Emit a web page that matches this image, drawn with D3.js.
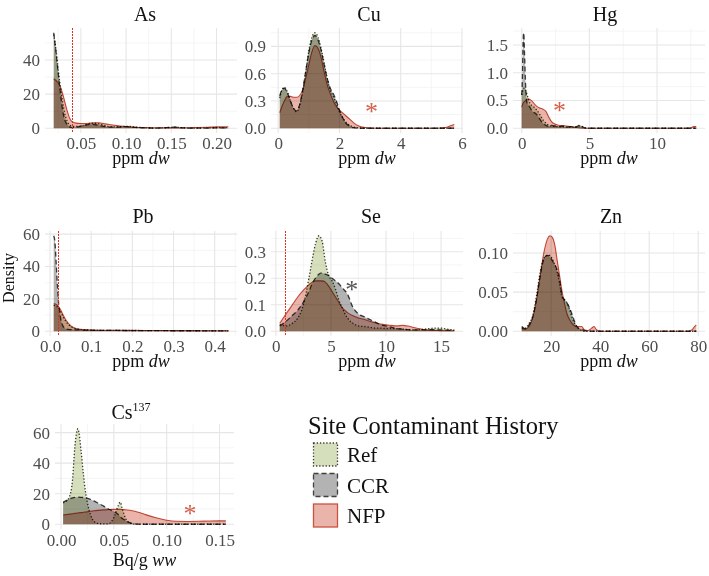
<!DOCTYPE html>
<html><head><meta charset="utf-8">
<script src="https://cdn.jsdelivr.net/npm/d3@7"></script>
<style>
body{margin:0;background:#fff;}
svg{display:block;font-family:"Liberation Serif","Times New Roman",serif;}
</style>
</head><body>
<svg id="c" width="709" height="576"></svg>
<script>
// ---------------- DATA ----------------
const groups = ["Ref", "CCR", "NFP"];
const legendTitle = "Site Contaminant History";

// As
const asX   = [0.02,0.0225,0.025,0.0275,0.03,0.0325,0.035,0.0375,0.04,0.045,0.05,0.055,0.06,0.065,0.07,0.075,0.08,0.09,0.1,0.105,0.11,0.12,0.13,0.14,0.15,0.155,0.16,0.17,0.18,0.19,0.2,0.213];
const asRef = [55,46,34,24,15,8,4,2,1.2,1,1.2,2,2.8,3,2.6,1.8,1,0.8,1.1,1,0.7,0.3,0.1,0.15,0.5,0.6,0.4,0.1,0.1,0.2,0.3,0.3];
const asCCR = [56,45,32,20,10,4.5,2,0.8,0.4,0.6,1.2,1.8,2.3,2.2,1.7,1.1,0.6,0.6,0.9,0.8,0.5,0.2,0.1,0.2,0.6,0.6,0.3,0.1,0.05,0.1,0.2,0.2];
const asNFP = [29,28,26.5,24,20,15,10,6,4,3,2.8,2.8,3,3.2,3.2,2.8,2.3,1.5,1,0.8,0.6,0.4,0.3,0.25,0.2,0.2,0.2,0.3,0.4,0.6,0.8,0.9];
const asXTicks = [0.05,0.10,0.15,0.20], asXLabels = ["0.05","0.10","0.15","0.20"];
const asYTicks = [0,20,40], asYLabels = ["0","20","40"];

// Cu
const cuX   = [0.05,0.1,0.2,0.3,0.4,0.5,0.6,0.7,0.8,0.9,1.0,1.1,1.2,1.3,1.4,1.5,1.6,1.7,1.8,1.9,2.0,2.1,2.2,2.3,2.4,2.5,2.6,2.8,3.0,3.5,4,4.5,5,5.3,5.5,5.65,5.75];
const cuRef = [0.33,0.40,0.45,0.40,0.30,0.22,0.18,0.25,0.40,0.62,0.85,1.0,1.05,1.0,0.88,0.72,0.55,0.42,0.35,0.27,0.18,0.12,0.07,0.04,0.02,0.01,0.005,0,0,0,0,0,0,0,0,0,0];
const cuCCR = [0.35,0.41,0.44,0.39,0.30,0.22,0.19,0.26,0.42,0.63,0.83,0.97,1.02,0.97,0.86,0.70,0.55,0.44,0.38,0.30,0.20,0.12,0.06,0.03,0.01,0.005,0,0,0,0,0,0,0,0,0,0,0];
const cuNFP = [0.17,0.22,0.30,0.35,0.35,0.34,0.34,0.36,0.42,0.55,0.70,0.84,0.91,0.88,0.78,0.62,0.48,0.38,0.30,0.24,0.20,0.17,0.14,0.11,0.08,0.05,0.03,0.01,0.002,0,0,0,0,0.002,0.01,0.03,0.04];
const cuXTicks = [0,2,4,6], cuXLabels = ["0","2","4","6"];
const cuYTicks = [0,0.3,0.6,0.9], cuYLabels = ["0.0","0.3","0.6","0.9"];

// Hg
const hgX   = [0.0,0.05,0.1,0.15,0.2,0.3,0.4,0.5,0.6,0.8,1.0,1.2,1.4,1.6,1.8,2.0,2.2,2.5,2.8,3.0,3.3,3.6,4.0,4.3,4.6,5,6,8,10,12,12.5,12.7,12.9];
const hgRef = [0.6,0.65,0.7,0.72,0.72,0.68,0.6,0.52,0.45,0.4,0.36,0.3,0.22,0.14,0.09,0.05,0.04,0.03,0.03,0.03,0.02,0.02,0.03,0.04,0.01,0,0,0,0,0,0,0,0];
const hgCCR = [0.6,0.9,1.55,1.72,1.4,0.7,0.45,0.42,0.38,0.3,0.27,0.22,0.14,0.08,0.05,0.03,0.05,0.04,0.03,0.04,0.02,0.03,0.02,0.06,0.01,0,0,0,0,0,0,0,0];
const hgNFP = [0.38,0.42,0.45,0.47,0.48,0.5,0.52,0.53,0.52,0.48,0.42,0.38,0.36,0.34,0.3,0.2,0.12,0.07,0.05,0.05,0.04,0.03,0.015,0.005,0,0,0,0,0,0,0.005,0.03,0.03];
const hgXTicks = [0,5,10], hgXLabels = ["0","5","10"];
const hgYTicks = [0,0.5,1.0,1.5], hgYLabels = ["0.0","0.5","1.0","1.5"];

// Pb
const pbX   = [0.009,0.012,0.015,0.018,0.021,0.025,0.03,0.035,0.04,0.05,0.06,0.07,0.08,0.1,0.15,0.2,0.25,0.3,0.35,0.4,0.433];
const pbRef = [16,16,15.5,15,14,12.5,10,7.5,5.5,3,1.8,1.2,0.9,0.7,0.5,0.45,0.4,0.35,0.3,0.3,0.3];
const pbCCR = [59,55,42,28,17,9,4,2,1.3,1,0.9,0.8,0.7,0.6,0.5,0.4,0.4,0.3,0.3,0.2,0.2];
const pbNFP = [17,17,16.5,16,15,13.5,11,8.5,6.5,3.5,2,1.3,1,0.8,0.6,0.5,0.45,0.4,0.35,0.3,0.3];
const pbXTicks = [0,0.1,0.2,0.3,0.4], pbXLabels = ["0.0","0.1","0.2","0.3","0.4"];
const pbYTicks = [0,20,40,60], pbYLabels = ["0","20","40","60"];

// Se
const seX   = [0.35,1,1.5,2,2.5,3,3.3,3.6,3.9,4.2,4.5,4.8,5.1,5.4,5.7,6,6.5,7,7.5,8,8.5,9,9.5,10,10.5,11,11.5,12,12.5,13,13.5,14,14.5,15,15.5,16.2];
const seRef = [0.025,0.02,0.03,0.05,0.10,0.20,0.27,0.33,0.36,0.34,0.26,0.21,0.19,0.16,0.12,0.09,0.05,0.03,0.02,0.018,0.015,0.012,0.012,0.01,0.01,0.01,0.008,0.006,0.005,0.006,0.008,0.01,0.012,0.012,0.008,0.005];
const seCCR = [0.02,0.04,0.06,0.08,0.11,0.15,0.18,0.2,0.215,0.22,0.215,0.21,0.2,0.19,0.18,0.165,0.14,0.09,0.065,0.055,0.045,0.035,0.025,0.02,0.015,0.01,0.008,0.006,0.005,0.005,0.005,0.006,0.006,0.005,0.004,0.003];
const seNFP = [0.03,0.07,0.10,0.13,0.155,0.175,0.185,0.19,0.19,0.19,0.185,0.17,0.15,0.13,0.11,0.09,0.07,0.058,0.05,0.045,0.038,0.032,0.027,0.024,0.022,0.02,0.022,0.02,0.014,0.01,0.006,0.004,0.003,0.002,0.002,0.002];
const seXTicks = [0,5,10,15], seXLabels = ["0","5","10","15"];
const seYTicks = [0,0.1,0.2,0.3], seYLabels = ["0.0","0.1","0.2","0.3"];

// Zn
const znX   = [8,9.5,11,12.5,14,15.5,17,18.5,19.5,20.5,21.5,22.5,23.5,24.5,25.5,26.5,27.5,28.5,29.5,30.5,31.5,32.5,33.5,35,36.5,37.5,38.5,40,50,60,70,76,77.5,78.5,79.2];
const znRef = [0.004,0.004,0.01,0.02,0.045,0.075,0.093,0.097,0.097,0.092,0.085,0.075,0.06,0.043,0.04,0.036,0.028,0.018,0.01,0.005,0.003,0.001,0,0,0,0,0,0,0,0,0,0,0,0,0];
const znCCR = [0.006,0.003,0.008,0.018,0.04,0.07,0.092,0.097,0.095,0.09,0.085,0.078,0.065,0.045,0.04,0.036,0.03,0.022,0.013,0.006,0.003,0.002,0.001,0,0,0,0,0,0,0,0,0,0,0,0];
const znNFP = [0.003,0.003,0.006,0.018,0.04,0.07,0.10,0.118,0.122,0.12,0.11,0.09,0.07,0.05,0.035,0.022,0.015,0.01,0.007,0.006,0.006,0.006,0.002,0.001,0.004,0.006,0.002,0,0,0,0,0,0.002,0.006,0.008];
const znXTicks = [20,40,60,80], znXLabels = ["20","40","60","80"];
const znYTicks = [0,0.05,0.10], znYLabels = ["0.00","0.05","0.10"];

// Cs137
const csX   = [0.002,0.005,0.008,0.011,0.013,0.015,0.016,0.017,0.019,0.021,0.023,0.025,0.028,0.031,0.035,0.04,0.045,0.048,0.051,0.054,0.056,0.058,0.061,0.065,0.07,0.075,0.08,0.09,0.1,0.11,0.12,0.13,0.14,0.15,0.156];
const csRef = [14,15,18,30,50,61,62.5,60,48,34,22,14,6,2,0.5,0.2,0.3,2,6,12,14.5,10,4,0.8,0.1,0,0,0,0,0,0,0,0,0,0];
const csCCR = [14.5,15.5,16.5,17.3,17.6,17.7,17.7,17.7,17.6,17.5,17.3,17,16.2,15.3,13.8,12,10,9,8,6.5,5,3.8,2.5,1,0.2,0,0,0,0,0,0,0,0,0,0];
const csNFP = [6,6.3,6.6,6.9,7.1,7.3,7.4,7.5,7.6,7.8,8,8.2,8.5,8.8,9.1,9.4,9.6,9.7,9.7,9.7,9.7,9.6,9.5,9.2,8.5,7.5,6.3,4.2,2.6,1.9,1.8,1.9,2.1,2.2,2.2];
const csXTicks = [0,0.05,0.10,0.15], csXLabels = ["0.00","0.05","0.10","0.15"];
const csYTicks = [0,20,40,60], csYLabels = ["0","20","40","60"];

// Reference (detection) lines and significance asterisks
const vlineValues = {As: 0.04, Pb: 0.02, Se: 0.8};
const starPoints = {Cu: [3.05, 0.22, "NFP"], Hg: [2.8, 0.39, "NFP"], Se: [6.9, 0.17, "CCR"], Cs: [0.122, 9, "NFP"]};

// ---------------- STYLE ----------------
const fillCol = {Ref: "#d6dfbc", CCR: "#b3b3b3", NFP: "#eab4ab"};
const lineCol = {Ref: "#3b3b30", CCR: "#3f3f3f", NFP: "#c9533d"};
const dashes  = {Ref: "1.3,1.9", CCR: "5,3", NFP: null};
const starCol = {NFP: "#d4604a", CCR: "#555555"};

const panels = [
  {key:"As", title:"As", x:asX, s:{Ref:asRef,CCR:asCCR,NFP:asNFP}, xt:asXTicks, xl:asXLabels, yt:asYTicks, yl:asYLabels, unit:["ppm ","dw"], r:[45,28,192,105], tb:21, tc:145},
  {key:"Cu", title:"Cu", x:cuX, s:{Ref:cuRef,CCR:cuCCR,NFP:cuNFP}, xt:cuXTicks, xl:cuXLabels, yt:cuYTicks, yl:cuYLabels, unit:["ppm ","dw"], r:[271,28,192,105], tb:21, tc:369},
  {key:"Hg", title:"Hg", x:hgX, s:{Ref:hgRef,CCR:hgCCR,NFP:hgNFP}, xt:hgXTicks, xl:hgXLabels, yt:hgYTicks, yl:hgYLabels, unit:["ppm ","dw"], r:[513,28,192,105], tb:21, tc:605},
  {key:"Pb", title:"Pb", x:pbX, s:{Ref:pbRef,CCR:pbCCR,NFP:pbNFP}, xt:pbXTicks, xl:pbXLabels, yt:pbYTicks, yl:pbYLabels, unit:["ppm ","dw"], r:[45,231,192,105], tb:223, tc:143},
  {key:"Se", title:"Se", x:seX, s:{Ref:seRef,CCR:seCCR,NFP:seNFP}, xt:seXTicks, xl:seXLabels, yt:seYTicks, yl:seYLabels, unit:["ppm ","dw"], r:[271,231,192,105], tb:223, tc:371},
  {key:"Zn", title:"Zn", x:znX, s:{Ref:znRef,CCR:znCCR,NFP:znNFP}, xt:znXTicks, xl:znXLabels, yt:znYTicks, yl:znYLabels, unit:["ppm ","dw"], r:[513,231,192,105], tb:223, tc:611},
  {key:"Cs", title:"Cs", sup:"137", x:csX, s:{Ref:csRef,CCR:csCCR,NFP:csNFP}, xt:csXTicks, xl:csXLabels, yt:csYTicks, yl:csYLabels, unit:["Bq/g ","ww"], r:[55,424,179,105], tb:419, tc:131, xtPad:5, xaOff:37}
];

const svg = d3.select("#c");

function minorBreaks(ticks, dom) {
  const step = ticks.length > 1 ? ticks[1] - ticks[0] : 1;
  const out = [];
  let first = ticks[0] - step / 2;
  while (first - step >= dom[0]) first -= step;
  for (let v = first; v <= dom[1] + 1e-12; v += step) {
    if (v >= dom[0]) out.push(v);
  }
  return out;
}

const vlineLayer = [];

panels.forEach(p => {
  const [px, py, pw, ph] = p.r;
  const xe = d3.extent(p.x);
  const xr = xe[1] - xe[0];
  const xDom = [xe[0] - 0.05 * xr, xe[1] + 0.05 * xr];
  const ymax = d3.max(groups, g => d3.max(p.s[g]));
  const yDom = [-0.05 * ymax, ymax * 1.05];
  const x = d3.scaleLinear().domain(xDom).range([px, px + pw]);
  const y = d3.scaleLinear().domain(yDom).range([py + ph, py]);

  const g = svg.append("g");

  // grid
  const grid = g.append("g");
  minorBreaks(p.xt, xDom).forEach(v => grid.append("line")
    .attr("x1", x(v)).attr("x2", x(v)).attr("y1", py).attr("y2", py + ph)
    .attr("stroke", "#f1f1f1").attr("stroke-width", 0.7));
  minorBreaks(p.yt, yDom).forEach(v => grid.append("line")
    .attr("y1", y(v)).attr("y2", y(v)).attr("x1", px).attr("x2", px + pw)
    .attr("stroke", "#f1f1f1").attr("stroke-width", 0.7));
  p.xt.filter(v => v >= xDom[0] && v <= xDom[1]).forEach(v => grid.append("line")
    .attr("x1", x(v)).attr("x2", x(v)).attr("y1", py).attr("y2", py + ph)
    .attr("stroke", "#e6e6e6").attr("stroke-width", 1.1));
  p.yt.forEach(v => grid.append("line")
    .attr("y1", y(v)).attr("y2", y(v)).attr("x1", px).attr("x2", px + pw)
    .attr("stroke", "#e6e6e6").attr("stroke-width", 1.1));

  // densities
  groups.forEach(k => {
    const pts = p.x.map((xv, i) => [xv, p.s[k][i]]);
    const area = d3.area().x(d => x(d[0])).y0(y(0)).y1(d => y(d[1])).curve(d3.curveMonotoneX);
    const line = d3.line().x(d => x(d[0])).y(d => y(d[1])).curve(d3.curveMonotoneX);
    g.append("path").attr("d", area(pts)).attr("fill", fillCol[k])
      .style("mix-blend-mode", "multiply");
    const l = g.append("path").attr("d", line(pts)).attr("fill", "none")
      .attr("stroke", lineCol[k]).attr("stroke-width", k === "NFP" ? 1.1 : 1.3)
      .style("mix-blend-mode", "multiply");
    if (dashes[k]) l.attr("stroke-dasharray", dashes[k]);
  });

  // detection line (collected, drawn on top at the end)
  if (vlineValues[p.key] !== undefined) {
    vlineLayer.push({vx: Math.round(x(vlineValues[p.key])) + 0.5, y1: py, y2: py + ph});
  }

  // asterisk
  if (starPoints[p.key]) {
    const [sx, sy, sg] = starPoints[p.key];
    g.append("text").attr("x", x(sx)).attr("y", y(sy) + 12)
      .attr("text-anchor", "middle").attr("font-size", 26)
      .attr("fill", starCol[sg]).text("*");
  }

  // axes
  const xa = g.append("g").attr("transform", `translate(0,${py + ph})`)
    .call(d3.axisBottom(x).tickValues(p.xt).tickFormat((d, i) => p.xl[i]).tickSize(0).tickPadding(p.xtPad || 4));
  const ya = g.append("g").attr("transform", `translate(${px},0)`)
    .call(d3.axisLeft(y).tickValues(p.yt).tickFormat((d, i) => p.yl[i]).tickSize(0).tickPadding(5));
  [xa, ya].forEach(a => {
    a.attr("font-family", null).attr("font-size", null);
    a.select(".domain").remove();
    a.selectAll("line").remove();
    a.selectAll("text").attr("font-size", 17).attr("fill", "#4d4d4d");
  });

  // title
  const t = g.append("text").attr("x", p.tc).attr("y", p.tb).attr("text-anchor", "middle")
    .attr("font-size", 20).attr("fill", "#111");
  t.append("tspan").text(p.title);
  if (p.sup) t.append("tspan").attr("font-size", 12).attr("dy", -8).text(p.sup);

  // axis title
  const at = g.append("text").attr("x", px + pw / 2).attr("y", py + ph + (p.xaOff || 31))
    .attr("text-anchor", "middle").attr("font-size", 18).attr("fill", "#111");
  at.append("tspan").text(p.unit[0]);
  at.append("tspan").attr("font-style", "italic").text(p.unit[1]);
});

svg.append("g").selectAll("line").data(vlineLayer).join("line")
  .attr("x1", d => d.vx).attr("x2", d => d.vx).attr("y1", d => d.y1).attr("y2", d => d.y2)
  .attr("stroke", "#e0301f").attr("stroke-width", 1).attr("stroke-dasharray", "2,1");

// y axis title
svg.append("text").attr("transform", "translate(14,278) rotate(-90)")
  .attr("text-anchor", "middle").attr("font-size", 16).attr("fill", "#111").text("Density");

// legend
const lg = svg.append("g");
lg.append("text").attr("x", 308).attr("y", 434).attr("font-size", 24.5).attr("fill", "#111").text(legendTitle);
groups.forEach((k, i) => {
  const yy = 443 + i * 30.5;
  const r = lg.append("rect").attr("x", 313.5).attr("y", yy).attr("width", 24).attr("height", 23)
    .attr("fill", fillCol[k]).attr("stroke", lineCol[k]).attr("stroke-width", 1.3);
  if (dashes[k]) r.attr("stroke-dasharray", dashes[k]);
  lg.append("text").attr("x", 347).attr("y", yy + 19).attr("font-size", 21).attr("fill", "#111").text(k);
});
</script>
</body></html>
